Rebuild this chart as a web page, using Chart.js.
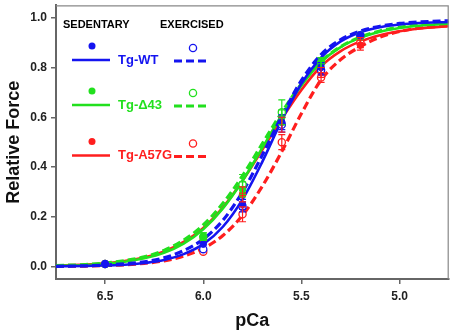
<!DOCTYPE html>
<html>
<head>
<meta charset="utf-8">
<script src="https://cdn.jsdelivr.net/npm/chart.js@4.4.1/dist/chart.umd.min.js"></script>
<style>
  html, body { margin: 0; padding: 0; background: #fff; }
  #wrap { width: 454px; height: 336px; }
</style>
</head>
<body>
<div id="wrap"><canvas id="chart" width="454" height="336"></canvas></div>
<script>
// fitted curves at these pCa values
const pCaGrid = [6.75, 6.6, 6.5, 6.4, 6.3, 6.2, 6.1, 6.0, 5.9, 5.8, 5.7, 5.6, 5.5, 5.4, 5.3, 5.2, 5.1, 5.0, 4.9, 4.75];
const fitWtSed   = [0.001, 0.002, 0.004, 0.007, 0.014, 0.026, 0.050, 0.090, 0.160, 0.270, 0.420, 0.588, 0.735, 0.840, 0.905, 0.942, 0.962, 0.973, 0.979, 0.983];
const fitWtExe   = [0.001, 0.003, 0.006, 0.011, 0.019, 0.035, 0.064, 0.110, 0.186, 0.300, 0.447, 0.605, 0.748, 0.852, 0.912, 0.946, 0.966, 0.977, 0.983, 0.988];
const fitD43Sed  = [0.003, 0.006, 0.011, 0.019, 0.033, 0.055, 0.092, 0.150, 0.234, 0.345, 0.476, 0.609, 0.728, 0.822, 0.882, 0.920, 0.944, 0.959, 0.968, 0.976];
const fitD43Exe  = [0.004, 0.008, 0.014, 0.024, 0.039, 0.065, 0.106, 0.167, 0.254, 0.365, 0.493, 0.620, 0.734, 0.824, 0.884, 0.922, 0.947, 0.962, 0.972, 0.980];
const fitA57Sed  = [0.004, 0.008, 0.013, 0.022, 0.037, 0.061, 0.099, 0.155, 0.238, 0.345, 0.468, 0.594, 0.710, 0.805, 0.866, 0.905, 0.930, 0.946, 0.957, 0.966];
const fitA57Exe  = [0.001, 0.002, 0.004, 0.007, 0.013, 0.023, 0.042, 0.073, 0.125, 0.206, 0.322, 0.462, 0.615, 0.750, 0.832, 0.884, 0.922, 0.945, 0.958, 0.968];

// measured points (mean and error)
const pCaPts = [6.5, 6.0, 5.8, 5.6, 5.4, 5.2];
const wtSed  = [0.01, 0.09, 0.25, 0.58, 0.80, 0.93];
const wtExe  = [0.01, 0.07, 0.24, 0.57, 0.79, 0.93];
const d43Sed = [0.01, 0.12, 0.31, 0.60, 0.82, 0.92];
const d43Exe = [0.01, 0.12, 0.33, 0.62, 0.82, 0.93];
const a57Sed = [0.01, 0.11, 0.29, 0.57, 0.78, 0.89];
const a57Exe = [0.01, 0.06, 0.21, 0.50, 0.76, 0.90];
const wtSedErr  = [0.005, 0.01, 0.02, 0.03, 0.02, 0.01];
const wtExeErr  = [0.005, 0.01, 0.02, 0.03, 0.02, 0.01];
const d43SedErr = [0.005, 0.015, 0.03, 0.03, 0.02, 0.01];
const d43ExeErr = [0.005, 0.015, 0.04, 0.05, 0.02, 0.01];
const a57SedErr = [0.005, 0.01, 0.03, 0.03, 0.02, 0.02];
const a57ExeErr = [0.005, 0.01, 0.03, 0.03, 0.02, 0.02];

const groups = ["Tg-WT", "Tg-\u039443", "Tg-A57G"];
const colors = ["#1414f0", "#22e01e", "#ff1e1e"];
const xTicks = [6.5, 6.0, 5.5, 5.0];
const yTicks = [0.0, 0.2, 0.4, 0.6, 0.8, 1.0];

const FONT = "'Liberation Sans', Arial, sans-serif";
const DASH = [8, 4];

function xy(xs, ys) { return xs.map((x, i) => ({ x: x, y: ys[i] })); }

function pointSet(vals, errs, color, filled) {
  return {
    data: xy(pCaPts, vals),
    err: errs,
    showLine: false,
    pointRadius: filled ? 3.3 : 3.6,
    pointBorderWidth: filled ? 1 : 1.3,
    pointBorderColor: color,
    pointBackgroundColor: filled ? color : "#fff",
    borderColor: color,
    backgroundColor: color
  };
}

function curveSet(vals, color, dashed) {
  return {
    data: xy(pCaGrid, vals),
    borderColor: color,
    borderWidth: dashed ? 3.2 : 2.6,
    borderDash: dashed ? DASH : [],
    pointRadius: 0,
    cubicInterpolationMode: "monotone",
    fill: false
  };
}

const errorBars = {
  id: "errorBars",
  afterDatasetsDraw(chart) {
    const ctx = chart.ctx, xs = chart.scales.x, ys = chart.scales.y;
    ctx.save();
    chart.data.datasets.forEach(ds => {
      if (!ds.err) return;
      ctx.strokeStyle = ds.borderColor;
      ctx.lineWidth = 1.2;
      ds.data.forEach((p, i) => {
        const e = ds.err[i];
        const px = xs.getPixelForValue(p.x);
        const top = ys.getPixelForValue(p.y + e), bot = ys.getPixelForValue(p.y - e);
        if (bot - top < 6) return;
        ctx.beginPath();
        ctx.moveTo(px, top); ctx.lineTo(px, bot);
        ctx.moveTo(px - 3.5, top); ctx.lineTo(px + 3.5, top);
        ctx.moveTo(px - 3.5, bot); ctx.lineTo(px + 3.5, bot);
        ctx.stroke();
      });
    });
    ctx.restore();
  }
};

const frameAndLegend = {
  id: "frameAndLegend",
  afterDraw(chart) {
    const ctx = chart.ctx, a = chart.chartArea;
    ctx.save();
    // thin frame on top and right
    ctx.strokeStyle = "#888";
    ctx.lineWidth = 1.2;
    ctx.beginPath();
    ctx.moveTo(a.left, a.top + 0.5); ctx.lineTo(a.right - 0.5, a.top + 0.5); ctx.lineTo(a.right - 0.5, a.bottom);
    ctx.stroke();

    // legend
    ctx.fillStyle = "#000";
    ctx.font = "bold 11px " + FONT;
    ctx.textBaseline = "middle";
    ctx.textAlign = "left";
    ctx.fillText("SEDENTARY", 63, 25);
    ctx.fillText("EXERCISED", 160, 25);

    const rowY = [60, 105, 155.5];
    groups.forEach((g, i) => {
      const y = rowY[i], c = colors[i];
      // sedentary: filled dot + solid line
      ctx.fillStyle = c;
      ctx.beginPath(); ctx.arc(92, y - 14, 3.5, 0, Math.PI * 2); ctx.fill();
      ctx.strokeStyle = c;
      ctx.lineWidth = 2.6;
      ctx.setLineDash([]);
      ctx.beginPath(); ctx.moveTo(72, y); ctx.lineTo(110, y); ctx.stroke();
      // label
      ctx.font = "bold 13px " + FONT;
      ctx.fillText(g, 118, y);
      // exercised: open circle + dashed line
      ctx.lineWidth = 1.3;
      ctx.fillStyle = "#fff";
      ctx.beginPath(); ctx.arc(193, y - 12, 3.6, 0, Math.PI * 2); ctx.fill(); ctx.stroke();
      ctx.lineWidth = 3;
      ctx.setLineDash(DASH);
      ctx.beginPath(); ctx.moveTo(174, y + 1); ctx.lineTo(208, y + 1); ctx.stroke();
      ctx.setLineDash([]);
    });
    ctx.restore();
  }
};

const datasets = [
  pointSet(wtSed, wtSedErr, colors[0], true),
  pointSet(wtExe, wtExeErr, colors[0], false),
  pointSet(d43Sed, d43SedErr, colors[1], true),
  pointSet(d43Exe, d43ExeErr, colors[1], false),
  pointSet(a57Sed, a57SedErr, colors[2], true),
  pointSet(a57Exe, a57ExeErr, colors[2], false),
  curveSet(fitWtExe, colors[0], true),
  curveSet(fitWtSed, colors[0], false),
  curveSet(fitD43Exe, colors[1], true),
  curveSet(fitD43Sed, colors[1], false),
  curveSet(fitA57Exe, colors[2], true),
  curveSet(fitA57Sed, colors[2], false)
];

new Chart(document.getElementById("chart"), {
  type: "line",
  data: { datasets: datasets },
  options: {
    responsive: false,
    animation: false,
    devicePixelRatio: 1,
    layout: { padding: { top: 4, right: 5, left: 0, bottom: 0 } },
    plugins: { legend: { display: false }, tooltip: { enabled: false } },
    scales: {
      x: {
        type: "linear",
        reverse: true,
        min: 4.75,
        max: 6.75,
        afterFit: s => { s.height = 57; s.paddingLeft = 0; s.paddingRight = 0; },
        afterBuildTicks: s => { s.ticks = xTicks.map(v => ({ value: v })); },
        grid: { drawOnChartArea: false, drawTicks: true, tickLength: 5, color: "#666", lineWidth: 1.5 },
        border: { display: true, color: "#666", width: 2 },
        ticks: { color: "#222", padding: 5, font: { family: FONT, size: 12, weight: "bold" }, callback: v => v.toFixed(1) },
        title: { display: true, text: "pCa", color: "#111", padding: { top: 0, bottom: 4 }, font: { family: FONT, size: 18, weight: "bold" } }
      },
      y: {
        type: "linear",
        min: -0.05,
        max: 1.05,
        afterFit: s => { s.width = 56; s.paddingTop = 0; s.paddingBottom = 0; },
        afterBuildTicks: s => { s.ticks = yTicks.map(v => ({ value: v })); },
        grid: { drawOnChartArea: false, drawTicks: true, tickLength: 5, color: "#666", lineWidth: 1.5 },
        border: { display: true, color: "#666", width: 2 },
        ticks: { color: "#222", padding: 4, font: { family: FONT, size: 12, weight: "bold" }, callback: v => v.toFixed(1) },
        title: { display: true, text: "Relative Force", color: "#111", padding: { top: 3, bottom: 0 }, font: { family: FONT, size: 18, weight: "bold" } }
      }
    }
  },
  plugins: [errorBars, frameAndLegend]
});
</script>
</body>
</html>
